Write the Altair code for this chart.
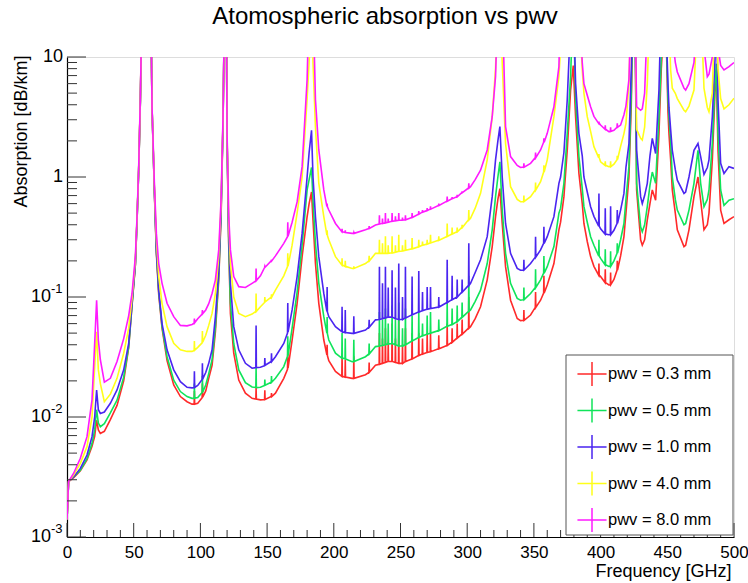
import altair as alt
import pandas as pd

# ---------------- data ----------------
freq = [
    0, 1.2, 5, 10, 15, 18.75, 20.75, 22.2, 23.5, 25, 28, 32.5, 37.5, 42.5, 46.25, 48.75, 51.25, 52.5, 53.75, 55,
    56.3, 62.8, 63.75, 65.5, 67, 68.75, 71.25, 75, 80, 85, 90, 93.75,
    95.3, 95.5, 95.7, 98, 101.3, 101.5, 101.7, 104, 106.25, 108.75, 111.25, 113.75, 115.5, 117,
    118.1, 119.4, 120, 121.25, 122.5, 125, 128.75, 133.75, 138.75,
    141.55, 141.75, 141.95, 145, 148.1, 148.3, 148.5, 153.1, 153.3, 153.5, 156.25, 162.5, 165.3, 165.5, 165.7, 168.75, 172.5, 176.25,
    180, 181.5, 183.3, 184.4, 186.25, 188.75, 192.5, 194.8, 195.0, 195.2, 196.25,
    201.25, 206.0, 206.2, 206.4, 208.4, 208.6, 208.8, 213.75, 214.8, 215.0, 215.2, 223.75, 226.3, 226.5, 226.7, 231.25,
    234.0, 234.2, 234.4, 236.3, 236.5, 236.7, 238.5, 238.7, 238.9, 240.6, 240.8, 241.0,
    243.5, 243.7, 243.9, 246.0, 246.2, 246.4, 248.5, 248.7, 248.9, 251.3, 251.5, 251.7,
    253.5, 253.7, 253.9, 258.5, 258.7, 258.9, 263.5, 263.7, 263.9, 266.3, 266.5, 266.7,
    269.8, 270.0, 270.2, 272.3, 272.5, 272.7, 278.5, 278.7, 278.9, 284.8, 285.0, 285.2,
    288.5, 288.7, 288.9, 292.3, 292.5, 292.7, 296.0, 296.2, 296.4, 301.0, 301.2, 301.4,
    302.5, 306, 310, 315, 318.75, 321.25, 323, 324.5, 326.25, 328.75, 332.5, 337.5, 340,
    342.3, 342.5, 342.7, 347.5, 351.05, 351.25, 351.45, 355, 357.3, 357.5, 357.7, 360, 365, 368.75,
    370, 372.5, 375, 377.5, 379.5, 381.25, 383.75, 386.25, 387.5, 390, 392.5, 395,
    398.55, 398.75, 398.95, 400, 403.3, 403.5, 403.7, 406.25, 407.3, 407.5, 407.7, 410, 412.3, 412.5, 412.7, 415, 417.5, 419, 421.25,
    423, 424.5, 425.7, 427, 430, 431.25, 433, 435, 437, 438.75, 441.25, 443.75, 445.5,
    448.5, 450.5, 451.25, 452.5, 453.75, 456, 457.5, 462.5, 463.75, 466.25, 470, 473, 475, 477.5, 480, 481.25, 483.75, 485.75, 486.75, 488, 490, 492.5, 496.25, 500,
]

pwv_03 = [
    .0014, .0029, .00312, .00357, .0044, .0057, .0069, .0094, .0078, .0073, .0076, .0095, .0125, .020, .038, .085, .185, .43, 1.15, 4.3,
    30, 30, 3.7, .75, .23, .105, .055, .0295, .0185, .0148, .0134, .0128,
    .0128, .0165, .0128, .013, .0145, .019, .0146, .0165, .021, .027, .0514, .139, .467, 2.9,
    30, 30, 2.0, .263, .073, .034, .0203, .0158, .0143,
    .0141, .0175, .0141, .0139, .014, .0167, .014, .0148, .0158, .0148, .0158, .021, .025, .034, .0255, .0438, .0886, .217,
    .467, .60, .75, .44, .19, .0886, .0438, .033, .04, .0325, .0295,
    .024, .0218, .034, .0218, .0215, .030, .0215, .021, .021, .032, .021, .0225, .0235, .0285, .0236, .027,
    .0275, .05, .0275, .028, .045, .028, .0285, .055, .0285, .029, .042, .029,
    .029, .06, .029, .0285, .045, .0285, .028, .065, .028, .028, .04, .028,
    .029, .055, .029, .0305, .05, .0305, .0325, .05, .0325, .0335, .045, .0335,
    .0345, .05, .0345, .035, .05, .035, .037, .048, .037, .0395, .06, .0395,
    .042, .055, .042, .0455, .06, .0455, .049, .065, .049, .055, .10, .055,
    .0566, .066, .083, .139, .263, .467, .65, .80, .41, .179, .094, .0663, .0636,
    .064, .078, .064, .0708, .082, .11, .082, .094, .108, .15, .108, .126, .19, .363,
    .42, .686, 1.67, 5.3, 8.5, 3.18, 1.07, .60, .41, .29, .217, .18,
    .152, .19, .152, .148, .132, .17, .132, .126, .126, .16, .127, .14, .167, .20, .168, .22, .318, .50, 1.0,
    4.0, 30, 30, .78, .30, .27, .30, .44, .60, .78, .64, 2.3, 8.0,
    30, 3.5, 2.3, 1.4, .78, .50, .363, .263, .27, .363, .686, 1.0, .64, .363, .40, .50, 1.39, 4.98, 7.8, 1.67, .53, .41, .44, .467,
]

pwv_05 = [
    .0014, .0029, .00316, .0036, .0045, .006, .0078, .0115, .0089, .0083, .0088, .0108, .0138, .0215, .0386, .086, .187, .435, 1.15, 4.35,
    30, 30, 3.75, .77, .24, .11, .0566, .0318, .0203, .0163, .0148, .0143,
    .0143, .019, .0143, .0145, .016, .022, .0161, .0185, .023, .030, .0566, .148, .50, 3.0,
    30, 30, 2.05, .28, .0886, .041, .0247, .0193, .0178,
    .0176, .026, .0176, .0177, .0183, .0205, .0184, .0195, .022, .0195, .021, .0263, .032, .047, .0325, .055, .11, .27,
    .78, .95, 1.2, .64, .28, .13, .0686, .05, .068, .0495, .0438,
    .034, .031, .05, .031, .0305, .045, .0305, .0289, .029, .044, .029, .0318, .0335, .041, .0336, .0386,
    .039, .075, .039, .0395, .065, .0395, .04, .08, .04, .0405, .06, .0405,
    .041, .085, .041, .04, .065, .04, .039, .09, .039, .039, .055, .039,
    .04, .08, .04, .043, .07, .043, .046, .075, .046, .0475, .06, .0475,
    .049, .07, .049, .05, .075, .05, .0525, .065, .0525, .057, .09, .057,
    .059, .08, .059, .0623, .085, .0623, .068, .09, .068, .076, .15, .076,
    .078, .092, .114, .19, .363, .686, 1.0, 1.34, .53, .231, .13, .0973, .094,
    .095, .12, .095, .107, .12, .17, .12, .139, .158, .22, .158, .179, .263, .50,
    .55, .885, 2.3, 6.9, 30, 4.4, 1.48, .80, .566, .42, .318, .27,
    .22, .30, .22, .21, .186, .25, .186, .18, .18, .24, .181, .20, .231, .28, .232, .30, .41, .65, 1.22,
    5.0, 30, 30, .885, .385, .35, .40, .566, .85, 1.1, .885, 3.18, 10,
    30, 4.5, 3.18, 2.0, 1.0, .65, .53, .40, .41, .53, .885, 1.67, .885, .566, .65, .78, 1.9, 6.0, 8.8, 2.3, .78, .58, .64, .66,
]

pwv_10 = [
    .0014, .0029, .00318, .00373, .00482, .00686, .010, .0168, .0115, .0107, .011, .013, .0168, .0247, .041, .0886, .19, .44, 1.16, 4.4,
    30, 30, 3.8, .78, .247, .114, .06, .0363, .0247, .0197, .0177, .0175,
    .0176, .024, .0176, .0183, .0205, .028, .0207, .0235, .028, .0363, .0686, .167, .53, 3.1,
    30, 30, 2.1, .318, .13, .0566, .0363, .028, .0255,
    .0258, .058, .0258, .026, .0268, .031, .027, .029, .034, .029, .0318, .041, .05, .089, .051, .078, .148, .339,
    1.0, 1.6, 2.45, 1.0, .467, .217, .107, .076, .121, .075, .0686,
    .0566, .0514, .083, .0513, .0505, .078, .0505, .0498, .0498, .069, .0498, .053, .056, .0645, .0562, .0645,
    .065, .179, .065, .066, .13, .066, .067, .179, .067, .068, .12, .068,
    .068, .167, .068, .066, .12, .066, .065, .19, .065, .065, .10, .065,
    .067, .179, .067, .071, .148, .071, .075, .165, .075, .077, .11, .077,
    .079, .121, .079, .08, .121, .08, .0825, .10, .0825, .09, .204, .09,
    .095, .15, .095, .10, .14, .10, .11, .14, .11, .125, .28, .125,
    .13, .16, .204, .318, .686, 1.39, 2.0, 2.63, 1.0, .41, .231, .173, .167,
    .168, .204, .168, .19, .215, .318, .215, .247, .28, .385, .28, .318, .467, .885,
    1.0, 1.6, 4.4, 20, 30, 6.0, 2.3, 1.5, 1.0, .75, .566, .47,
    .39, .73, .39, .37, .335, .55, .335, .33, .33, .57, .332, .36, .41, .53, .412, .53, .73, 1.2, 1.9,
    8.0, 30, 30, 1.67, .686, .60, .70, .885, 1.5, 2.1, 1.57, 5.3, 30,
    30, 6.0, 3.8, 2.5, 1.67, 1.15, .94, .73, .75, 1.0, 1.67, 1.9, 1.48, 1.05, 1.2, 1.39, 3.18, 9.4, 30, 4.4, 1.3, 1.07, 1.22, 1.18,
]

pwv_40 = [
    .0014, .0029, .00329, .00411, .00566, .010, .0263, .0514, .0247, .019, .0134, .0155, .021, .034, .055, .0973, .204, .455, 1.19, 4.6,
    30, 30, 3.8, .83, .30, .148, .0886, .0566, .0411, .0363, .0352, .0352,
    .0358, .043, .036, .038, .0415, .052, .042, .048, .058, .073, .107, .217, .60, 3.2,
    30, 30, 2.2, .41, .19, .10, .073, .0686, .072,
    .076, .107, .076, .083, .090, .10, .091, .10, .105, .10, .114, .15, .179, .231, .181, .27, .50, 1.0,
    4.5, 9.0, 30, 9.0, 2.6, .885, .467, .33, .36, .325, .30,
    .217, .185, .21, .185, .18, .20, .18, .173, .173, .18, .173, .19, .20, .22, .20, .231,
    .231, .30, .231, .231, .28, .231, .231, .32, .231, .231, .27, .231,
    .233, .32, .233, .236, .27, .236, .24, .33, .24, .242, .27, .242,
    .245, .30, .245, .252, .31, .252, .262, .30, .262, .27, .29, .27,
    .276, .30, .276, .282, .33, .282, .297, .32, .297, .32, .41, .32,
    .335, .38, .335, .35, .38, .35, .38, .40, .38, .44, .53, .44,
    .453, .55, .731, 1.39, 3.18, 8.0, 30, 30, 9.0, 1.9, .83, .65, .622,
    .625, .70, .625, .686, .78, .90, .78, .914, 1.1, 1.25, 1.1, 1.39, 3.18, 6.9,
    12, 30, 30, 30, 30, 30, 30, 7.8, 5.0, 3.18, 2.4, 1.79,
    1.45, 1.55, 1.45, 1.34, 1.25, 1.35, 1.25, 1.22, 1.22, 1.35, 1.22, 1.28, 1.39, 1.5, 1.4, 1.8, 2.3, 2.8, 6.0,
    30, 30, 30, 2.5, 2.1, 2.03, 2.6, 6.0, 30, 30, 30, 30, 30,
    30, 30, 20, 7.8, 5.5, 4.98, 4.5, 3.6, 3.5, 3.9, 5.3, 30, 30, 5.5, 3.8, 3.5, 5.0, 30, 30, 8.0, 4.5, 3.7, 4.0, 4.53,
]

pwv_80 = [
    .0014, .0029, .0034, .00453, .00686, .0139, .041, .094, .0438, .030, .0195, .021, .029, .045, .070, .107, .217, .467, 1.22, 4.7,
    30, 30, 3.85, .885, .339, .19, .13, .0886, .0686, .058, .0575, .059,
    .0605, .066, .061, .066, .072, .078, .0725, .078, .088, .107, .139, .247, .645, 3.3,
    30, 30, 2.3, .47, .247, .148, .122, .12, .13,
    .136, .173, .137, .15, .176, .18, .177, .20, .205, .20, .22, .28, .318, .42, .32, .42, .62, 1.22,
    6.5, 30, 30, 30, 4.4, 1.68, .78, .57, .60, .565, .531,
    .41, .35, .37, .35, .345, .36, .345, .339, .339, .345, .339, .363, .372, .39, .373, .398,
    .405, .48, .405, .41, .45, .41, .415, .50, .415, .42, .45, .42,
    .428, .50, .428, .432, .47, .432, .436, .50, .436, .438, .46, .438,
    .44, .48, .44, .46, .50, .46, .49, .52, .49, .51, .53, .51,
    .525, .55, .525, .54, .57, .54, .578, .60, .578, .63, .686, .63,
    .66, .68, .66, .686, .71, .686, .74, .76, .74, .81, .885, .81,
    .83, .95, 1.14, 1.68, 3.18, 6.9, 30, 30, 30, 2.63, 1.48, 1.25, 1.2,
    1.21, 1.30, 1.21, 1.30, 1.45, 1.6, 1.45, 1.68, 1.95, 2.1, 1.95, 2.31, 3.85, 8.3,
    30, 30, 30, 30, 30, 30, 30, 9.0, 6.0, 4.8, 3.85, 3.2,
    2.8, 2.9, 2.8, 2.71, 2.5, 2.7, 2.5, 2.39, 2.39, 2.6, 2.4, 2.45, 2.6, 2.8, 2.6, 2.71, 3.3, 3.9, 6.5,
    30, 30, 30, 3.85, 3.6, 3.7, 5.0, 20, 30, 30, 30, 30, 30,
    30, 30, 30, 30, 15, 9.0, 7.5, 5.5, 5.3, 6.0, 9.0, 30, 30, 12, 6.85, 7.2, 10, 30, 30, 12, 8.5, 7.8, 8.3, 9.0,
]

series_names = ["pwv = 0.3 mm", "pwv = 0.5 mm", "pwv = 1.0 mm", "pwv = 4.0 mm", "pwv = 8.0 mm"]
series_colors = ["#ff2a2a", "#10e45a", "#4a25f0", "#ffff1a", "#ff1aff"]

x_major = [0, 50, 100, 150, 200, 250, 300, 350, 400, 450, 500]
x_minor = [f for f in range(10, 500, 10) if f % 50 != 0]
y_major = [0.001, 0.01, 0.1, 1, 10]
y_minor = [k * d for d in [0.001, 0.01, 0.1, 1] for k in range(2, 10)]
y_label_main = ["10", "10", "10", "1", "10"]
y_label_exp = ["-3", "-2", "-1", "", ""]
chart_title = "Atomospheric absorption vs pwv"

FONT = "Liberation Sans"

rows = []
for name, vals in zip(series_names, [pwv_03, pwv_05, pwv_10, pwv_40, pwv_80]):
    if len(vals) != len(freq):
        raise ValueError(f"{name}: {len(vals)} values vs {len(freq)} freqs")
    for i, (f, v) in enumerate(zip(freq, vals)):
        rows.append({"series": name, "f": f, "v": v, "i": i})
df = pd.DataFrame(rows)

W, H = 667, 480
xscale = alt.Scale(domain=[0, 500], nice=False, zero=False)
yscale = alt.Scale(type="log", domain=[0.001, 10], nice=False)

x_axis = alt.Axis(values=x_major, ticks=False, tickSize=0, grid=False, labelFontSize=17, labelFont=FONT,
                  labelColor="black", labelPadding=7, labelFlush=False, domainColor="black", domainWidth=1.2,
                  title="Frequency [GHz]", titleFont=FONT, titleFontSize=18, titleFontWeight="normal",
                  titleColor="black", titleX=W - 3, titleY=39, titleAlign="right", titleBaseline="alphabetic")
y_axis = alt.Axis(labels=False, ticks=False, grid=False, domainColor="black", domainWidth=1.2,
                  title="Absorption [dB/km]", titleFont=FONT, titleFontSize=18, titleFontWeight="normal",
                  titleColor="black", titleX=-41, titleY=-2, titleAngle=270, titleAlign="right",
                  titleBaseline="alphabetic")

lines = alt.Chart(df).mark_line(strokeWidth=1.6, clip=True).encode(
    x=alt.X("f:Q", scale=xscale, axis=x_axis),
    y=alt.Y("v:Q", scale=yscale, axis=y_axis),
    color=alt.Color("series:N", scale=alt.Scale(domain=series_names, range=series_colors),
                    legend=alt.Legend(title=None, orient="none", legendX=511, legendY=303,
                                      symbolType="M-1.1,0H1.1M0,-0.9V0.9", symbolSize=700, symbolStrokeWidth=1.5,
                                      labelFontSize=16.5, labelFont=FONT, labelColor="black", labelOffset=2,
                                      padding=0, rowPadding=6.5, strokeColor="transparent",
                                      fillColor="transparent")),
    order="i:Q",
)

ytick_major = alt.Chart(pd.DataFrame({"v": y_major})).mark_rule(color="#333", strokeWidth=1).encode(
    y=alt.Y("v:Q", scale=yscale, axis=y_axis), x=alt.value(0), x2=alt.value(19))
ytick_minor = alt.Chart(pd.DataFrame({"v": y_minor})).mark_rule(color="#333", strokeWidth=1).encode(
    y=alt.Y("v:Q", scale=yscale, axis=y_axis), x=alt.value(0), x2=alt.value(10))
xtick_major = alt.Chart(pd.DataFrame({"f": x_major})).mark_rule(color="#333", strokeWidth=1).encode(
    x=alt.X("f:Q", scale=xscale, axis=x_axis), y=alt.value(H), y2=alt.value(H - 14))
xtick_minor = alt.Chart(pd.DataFrame({"f": x_minor})).mark_rule(color="#333", strokeWidth=1).encode(
    x=alt.X("f:Q", scale=xscale, axis=x_axis), y=alt.value(H), y2=alt.value(H - 7))

ylab = pd.DataFrame({"v": y_major, "main": y_label_main, "exp": y_label_exp})
ylab_plain = ylab[ylab["exp"] == ""]
ylab_pow = ylab[ylab["exp"] != ""]

lab_plain = alt.Chart(ylab_plain).mark_text(align="right", baseline="middle", fontSize=18, font=FONT,
                                            color="black").encode(
    y=alt.Y("v:Q", scale=yscale, axis=y_axis), x=alt.value(-4), text="main:N")
lab_base = alt.Chart(ylab_pow).mark_text(align="right", baseline="middle", fontSize=18, font=FONT,
                                         color="black").encode(
    y=alt.Y("v:Q", scale=yscale, axis=y_axis), x=alt.value(-16), text="main:N")
lab_exp = alt.Chart(ylab_pow).mark_text(align="left", baseline="middle", fontSize=13, font=FONT,
                                        color="black", dy=-8).encode(
    y=alt.Y("v:Q", scale=yscale, axis=y_axis), x=alt.value(-16), text="exp:N")

# legend frame (opaque box, as in the reference)
legend_box = alt.Chart(pd.DataFrame({"k": [0]})).mark_rect(fill="white", stroke="#555", strokeWidth=1).encode(
    x=alt.value(499), x2=alt.value(666), y=alt.value(298), y2=alt.value(478))

title_mark = alt.Chart(pd.DataFrame({"t": [chart_title]})).mark_text(
    align="center", baseline="alphabetic", fontSize=24, font=FONT, color="black").encode(
    x=alt.value(318), y=alt.value(-33), text="t:N")

chart = alt.layer(
    lines, ytick_major, ytick_minor, xtick_major, xtick_minor, lab_plain, lab_base, lab_exp,
    legend_box, title_mark
).properties(
    width=W, height=H,
    autosize=alt.AutoSizeParams(type="none"),
    padding={"left": 67, "top": 57, "right": 14, "bottom": 46},
).configure_view(stroke="#888", strokeWidth=1).configure(background="white")

chart.save("out.html", embed_options={"renderer": "svg", "actions": False})
